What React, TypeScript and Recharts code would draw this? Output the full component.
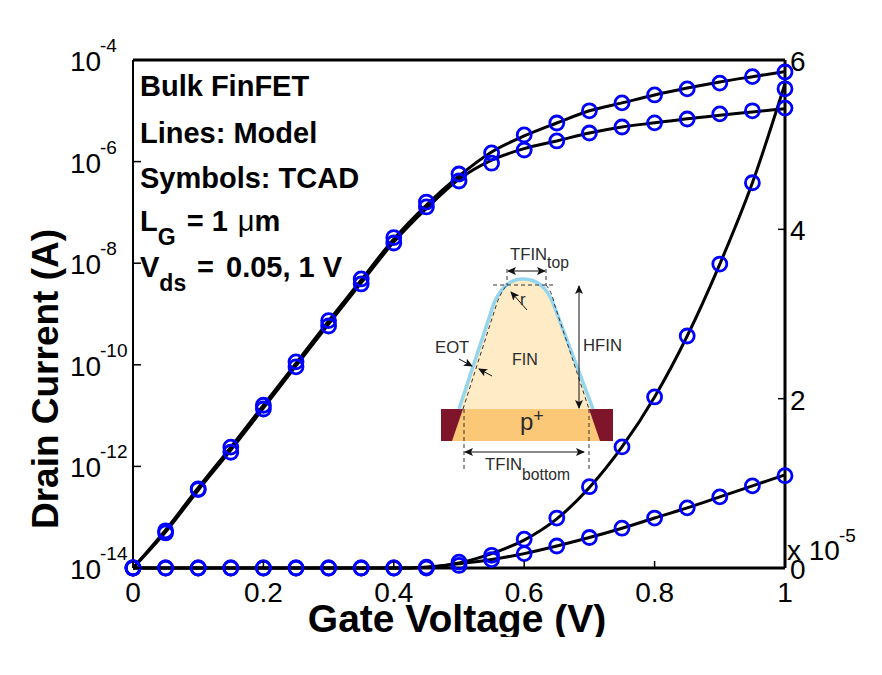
import React from "react";
import { ComposedChart, Line, XAxis, YAxis, Label, ReferenceLine } from "recharts";

const FONT = "'Liberation Sans', Arial, sans-serif";
const BLUE = "#0000ff";

const gateVoltage = [0, 0.05, 0.1, 0.15, 0.2, 0.25, 0.3, 0.35, 0.4, 0.45, 0.5, 0.55, 0.6, 0.65, 0.7, 0.75, 0.8, 0.85, 0.9, 0.95, 1];

// TCAD symbols, drain current in A (log axis)
const tcadHighLog = [1e-14, 5.4e-14, 3.6e-13, 2.4e-12, 1.6e-11, 1.14e-10, 7.4e-10, 4.9e-9, 3.2e-8, 1.6e-7, 5.7e-7, 1.48e-6, 3.35e-6, 5.75e-6, 1e-5, 1.43e-5, 2.05e-5, 2.7e-5, 3.5e-5, 4.7e-5, 5.8e-5];
const tcadLowLog = [1e-14, 4.9e-14, 3.5e-13, 1.9e-12, 1.35e-11, 9.1e-11, 5.8e-10, 3.9e-9, 2.5e-8, 1.28e-7, 4.15e-7, 9.3e-7, 1.69e-6, 2.55e-6, 3.66e-6, 4.8e-6, 5.8e-6, 6.9e-6, 8.7e-6, 1e-5, 1.13e-5];
// TCAD symbols, drain current in units of 1e-5 A (linear axis)
const tcadHighLin = [0, 0, 0, 0, 0, 0, 0, 0, 0, 0.01, 0.07, 0.15, 0.34, 0.59, 0.96, 1.43, 2.02, 2.74, 3.59, 4.55, 5.66];
const tcadLowLin = [0, 0, 0, 0, 0, 0, 0, 0, 0, 0, 0.03, 0.1, 0.17, 0.26, 0.36, 0.47, 0.59, 0.71, 0.84, 0.97, 1.09];

// Model lines
const modelHighLog = [1e-14, 5.6e-14, 3.8e-13, 2.4e-12, 1.6e-11, 1.08e-10, 7.3e-10, 4.7e-9, 3e-8, 1.4e-7, 5.2e-7, 1.55e-6, 3.2e-6, 5.75e-6, 1e-5, 1.43e-5, 2.05e-5, 2.8e-5, 3.7e-5, 4.7e-5, 5.9e-5];
const modelLowLog = [1e-14, 5.1e-14, 3.4e-13, 2.1e-12, 1.4e-11, 9.5e-11, 6.35e-10, 4.1e-9, 2.6e-8, 1.2e-7, 4.5e-7, 1.07e-6, 1.8e-6, 2.55e-6, 3.66e-6, 4.8e-6, 5.8e-6, 7e-6, 8.2e-6, 9.5e-6, 1.1e-5];
const modelHighLin = [0, 0, 0, 0, 0, 0, 0, 0, 0, 0.01, 0.06, 0.17, 0.33, 0.58, 0.95, 1.43, 2.02, 2.74, 3.59, 4.55, 5.72];
const modelLowLin = [0, 0, 0, 0, 0, 0, 0, 0, 0, 0.01, 0.05, 0.1, 0.17, 0.26, 0.36, 0.47, 0.59, 0.71, 0.84, 0.97, 1.1];

const xTicks = [0, 0.2, 0.4, 0.6, 0.8, 1];
const logTicks = [1e-14, 1e-12, 1e-10, 1e-8, 1e-6, 1e-4];
const logTickExponents = ["-14", "-12", "-10", "-8", "-6", "-4"];
const linTicks = [0, 2, 4, 6];

const notes = ["Bulk FinFET", "Lines: Model", "Symbols: TCAD"];

const table = gateVoltage.map((v, i) => ({
  v,
  tcadHighLog: tcadHighLog[i],
  tcadLowLog: tcadLowLog[i],
  tcadHighLin: tcadHighLin[i],
  tcadLowLin: tcadLowLin[i],
  modelHighLog: modelHighLog[i],
  modelLowLog: modelLowLog[i],
  modelHighLin: modelHighLin[i],
  modelLowLin: modelLowLin[i],
}));

const XTick = ({ x, y, payload }: any) => (
  <g>
    <line x1={x} x2={x} y1={y} y2={y - 7} stroke="#000" strokeWidth={1.5} />
    <text x={x} y={y + 34} textAnchor="middle" fontSize={28} fontFamily={FONT} fill="#000">{String(payload.value)}</text>
  </g>
);

const LogTick = ({ x, y, index }: any) => (
  <g>
    <line x1={x} x2={x + 8} y1={y} y2={y} stroke="#000" strokeWidth={1.5} />
    <text x={70} y={y + 11} fontSize={28} fontFamily={FONT} fill="#000">10</text>
    <text x={100} y={y - 8} fontSize={19} fontFamily={FONT} fill="#000">{logTickExponents[index]}</text>
  </g>
);

const LinTick = ({ x, y, payload }: any) => (
  <g>
    <line x1={x} x2={x - 7} y1={y} y2={y} stroke="#000" strokeWidth={1.5} />
    <text x={x + 5} y={y + 11} fontSize={28} fontFamily={FONT} fill="#000">{String(payload.value)}</text>
  </g>
);

const Marker = ({ cx, cy }: any) => <circle cx={cx} cy={cy} r={7} fill="none" stroke={BLUE} strokeWidth={2.8} />;

const YTitle = () => (
  <text transform="rotate(-90 58 379)" x={58} y={379} textAnchor="middle" fontSize={37} fontWeight="bold" fontFamily={FONT} fill="#000">
    Drain Current (A)
  </text>
);

const Inset = () => {
  const gray = "#333";
  const t = { fontFamily: FONT, fill: "#2b2b2b", fontSize: 16.7 };
  return (
    <svg width={882} height={675} style={{ position: "absolute", left: 0, top: 0 }}>
      <defs>
        <marker id="ah" markerWidth="9" markerHeight="8" refX="8" refY="4" orient="auto-start-reverse">
          <path d="M0,0 L9,4 L0,8 L2,4 Z" fill="#111" />
        </marker>
      </defs>
      <rect x={441} y={409} width={172} height={32} fill="#fbc877" />
      <polygon points="441,409 463,409 452,441 441,441" fill="#7f152b" />
      <polygon points="589,409 613,409 613,441 600,441" fill="#7f152b" />
      <path d="M459,409 L494,303 C502,285 512,279 523,279 C537,279 547,288 553,303 L593,409 Z" fill="#ffebc6" />
      <path d="M459,409 L494,303 C502,285 512,279 523,279 C537,279 547,288 553,303 L593,409" fill="none" stroke="#93d6ee" strokeWidth={3.5} />
      <path d="M463,409 L497,303 Q501,292 507,285 M546,285 Q552,292 554,303 L589,409" fill="none" stroke={gray} strokeWidth={1} strokeDasharray="4 3" />
      <path d="M493,285 H553 M507,269 V285 M546,269 V285 M464,409 V470 M589,409 V472" fill="none" stroke={gray} strokeWidth={1} strokeDasharray="4 3" />
      <line x1={508} y1={271} x2={545} y2={271} stroke="#111" strokeWidth={1} markerEnd="url(#ah)" markerStart="url(#ah)" />
      <line x1={579} y1={286} x2={579} y2={408} stroke="#111" strokeWidth={1} markerEnd="url(#ah)" markerStart="url(#ah)" />
      <line x1={465} y1={452} x2={584} y2={452} stroke="#111" strokeWidth={1} markerEnd="url(#ah)" markerStart="url(#ah)" />
      <line x1={459} y1={359} x2={472} y2={366} stroke="#111" strokeWidth={1} markerEnd="url(#ah)" />
      <line x1={492} y1={376} x2={479} y2={369} stroke="#111" strokeWidth={1} markerEnd="url(#ah)" />
      <line x1={527} y1={310} x2={511} y2={292} stroke="#111" strokeWidth={1} markerEnd="url(#ah)" />
      <text x={510} y={260} {...t}>TFIN<tspan fontSize={15.7} dy={8}>top</tspan></text>
      <text x={583} y={351} {...t}>HFIN</text>
      <text x={435} y={353} {...t}>EOT</text>
      <text x={512} y={365} {...t} fontSize={16}>FIN</text>
      <text x={520} y={305} {...t}>r</text>
      <text x={520} y={430} {...t} fontSize={24}>p<tspan fontSize={18} dy={-8}>+</tspan></text>
      <text x={485} y={470} {...t}>TFIN<tspan fontSize={15.7} dy={10}>bottom</tspan></text>
    </svg>
  );
};

const Notes = () => (
  <svg width={882} height={675} style={{ position: "absolute", left: 0, top: 0, pointerEvents: "none" }}>
    <g fontFamily={FONT} fontWeight="bold" fontSize={29} fill="#000">
      <text x={140} y={96}>{notes[0]}</text>
      <text x={140} y={143}>{notes[1]}</text>
      <text x={140} y={188}>{notes[2]}</text>
      <text x={140} y={231}>L<tspan fontSize={23} dy={14}>G</tspan><tspan dy={-14} dx={3}> = 1 </tspan><tspan fontWeight="normal" dx={2}>μ</tspan>m</text>
      <text x={140} y={277}>V<tspan fontSize={23} dy={14}>ds</tspan><tspan dy={-14} x={197}>=</tspan><tspan x={226}>0.05, 1 V</tspan></text>
    </g>
    <g fontFamily={FONT} fontSize={28} fill="#000">
      <text x={787} y={560}>x 10</text>
      <text x={839} y={542} fontSize={19}>-5</text>
    </g>
  </svg>
);

export default function App() {
  return (
    <div style={{ position: "absolute", left: 0, top: 0, width: 882, height: 675, background: "#fff" }}>
      <Inset />
      <div style={{ position: "absolute", left: 0, top: 0 }}>
        <ComposedChart width={882} height={637} data={table} margin={{ top: 60, right: 0, bottom: 0, left: 0 }}>
          <XAxis dataKey="v" type="number" xAxisId="b" domain={[0, 1]} ticks={xTicks} interval={0} height={69} tickSize={0} tickMargin={0} tickLine={false} axisLine={{ stroke: "#000", strokeWidth: 3 }} tick={<XTick />}>
            <Label value="Gate Voltage (V)" position="insideBottom" offset={5} dx={-2} fontSize={39} fontWeight="bold" fontFamily={FONT} fill="#000" />
          </XAxis>
          <YAxis yAxisId="log" scale="log" type="number" domain={[1e-14, 1e-4]} ticks={logTicks} interval={0} width={133} tickSize={0} tickMargin={0} tickLine={false} axisLine={{ stroke: "#000", strokeWidth: 2 }} tick={<LogTick />}>
            <Label content={<YTitle />} />
          </YAxis>
          <YAxis yAxisId="lin" orientation="right" type="number" domain={[0, 6]} ticks={linTicks} interval={0} width={97} tickSize={0} tickMargin={0} tickLine={false} axisLine={{ stroke: "#000", strokeWidth: 3 }} tick={<LinTick />} />

          <ReferenceLine xAxisId="b" yAxisId="lin" y={6} stroke="#000" strokeWidth={3} />

          <Line xAxisId="b" yAxisId="log" dataKey="tcadHighLog" stroke="none" dot={<Marker />} activeDot={false} legendType="none" isAnimationActive={false} />
          <Line xAxisId="b" yAxisId="log" dataKey="tcadLowLog" stroke="none" dot={<Marker />} activeDot={false} legendType="none" isAnimationActive={false} />
          <Line xAxisId="b" yAxisId="lin" dataKey="tcadHighLin" stroke="none" dot={<Marker />} activeDot={false} legendType="none" isAnimationActive={false} />
          <Line xAxisId="b" yAxisId="lin" dataKey="tcadLowLin" stroke="none" dot={<Marker />} activeDot={false} legendType="none" isAnimationActive={false} />

          <Line xAxisId="b" yAxisId="log" type="monotone" dataKey="modelHighLog" stroke="#000" strokeWidth={3} dot={false} activeDot={false} isAnimationActive={false} />
          <Line xAxisId="b" yAxisId="log" type="monotone" dataKey="modelLowLog" stroke="#000" strokeWidth={3} dot={false} activeDot={false} isAnimationActive={false} />
          <Line xAxisId="b" yAxisId="lin" type="monotone" dataKey="modelHighLin" stroke="#000" strokeWidth={3} dot={false} activeDot={false} isAnimationActive={false} />
          <Line xAxisId="b" yAxisId="lin" type="monotone" dataKey="modelLowLin" stroke="#000" strokeWidth={3} dot={false} activeDot={false} isAnimationActive={false} />
        </ComposedChart>
      </div>
      <Notes />
    </div>
  );
}
